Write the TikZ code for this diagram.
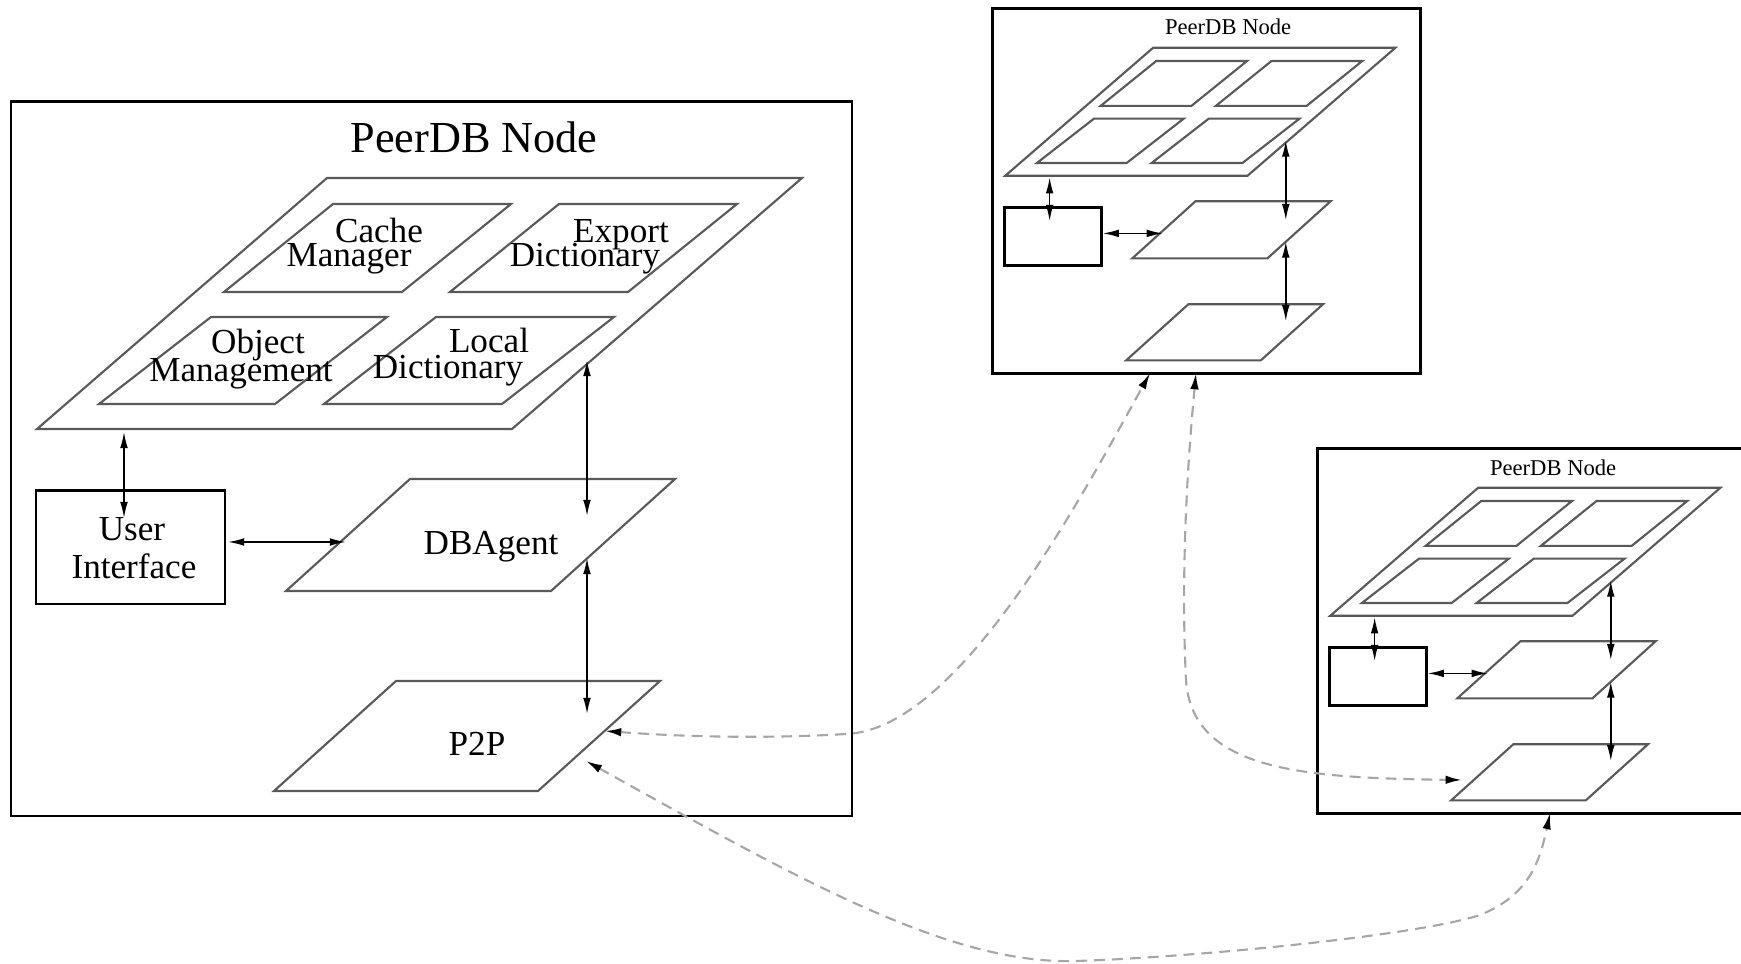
\documentclass[tikz,border=0pt]{standalone}
\usepackage{fontspec}
\setmainfont{Liberation Serif}
\usetikzlibrary{arrows.meta}

\tikzset{
  frame/.style={draw=black, line width=0.85pt},
  layer/.style={draw=black!65, line width=0.6pt},
  link/.style={{Latex[length=4.6pt,width=2.2pt]}-{Latex[length=4.6pt,width=2.2pt]}, line width=0.45pt},
  netlink/.style={{Latex[length=4.6pt,width=2.4pt,color=black]}-{Latex[length=4.6pt,width=2.4pt,color=black]},
    draw=black!35, line width=0.6pt, dash pattern=on 3.1pt off 2pt},
  lbl/.style={anchor=base, inner sep=0pt, font=\fontsize{10}{12}\selectfont},
  % one PeerDB node, drawn from the top left corner of its frame
  peernode/.pic={
    \draw[frame] (0,0) rectangle (841,714);
    \node[anchor=base, inner sep=0pt, font=\fontsize{12.6}{14}\selectfont] (-title) at (463,51) {PeerDB Node};
    % top layer with its four modules
    \draw[layer] (26,327) -- ++(475,0) -- ++(290,-251) -- ++(-475,0) -- cycle;
    \draw[layer] (213,190) -- ++(178,0) -- ++(109,-88) -- ++(-178,0) -- cycle;
    \draw[layer] (439,190) -- ++(178,0) -- ++(109,-88) -- ++(-178,0) -- cycle;
    \draw[layer] (88,302) -- ++(176,0) -- ++(112,-87) -- ++(-176,0) -- cycle;
    \draw[layer] (313,302) -- ++(178,0) -- ++(112,-87) -- ++(-178,0) -- cycle;
    % user interface box
    \draw[frame] (25,389) rectangle (214,502);
    % agent and p2p layers
    \draw[layer] (275,489) -- ++(265,0) -- ++(124,-112) -- ++(-265,0) -- cycle;
    \draw[layer] (263,689) -- ++(264,0) -- ++(122,-110) -- ++(-264,0) -- cycle;
    % connector ends
    \coordinate (-lay1) at (113,330);
    \coordinate (-ui1) at (113,416);
    \coordinate (-ui2) at (217,440);
    \coordinate (-dba1) at (335,440);
    \coordinate (-lay2) at (576,258);
    \coordinate (-dba2) at (576,414);
    \coordinate (-dba3) at (576,456);
    \coordinate (-p2p1) at (576,612);
    \coordinate (-p2pa) at (594,629);
    \coordinate (-p2pb) at (575,659);
    \coordinate (-p2pl) at (284,649);
    \coordinate (-bota) at (310,714);
    \coordinate (-botb) at (400,714);
    \coordinate (-botc) at (457,714);
    \draw[link] (-lay1) -- (-ui1);
    \draw[link] (-ui2) -- (-dba1);
    \draw[link] (-lay2) -- (-dba2);
    \draw[link] (-dba3) -- (-p2p1);
  }
}

\begin{document}
\begin{tikzpicture}[x=0.1mm, y=-0.1mm]
\useasboundingbox (0,0) rectangle (1741,964);

% ---- the three nodes ----
\pic (big) at (11,102) {peernode};
\pic[scale=0.51, transform shape] (up) at (992,9) {peernode};
\pic[scale=0.51, transform shape] (low) at (1317,449) {peernode};

% ---- labels of the big node ----
\node[lbl] (cachetxt) at (379,243) {Cache};
\node[lbl] (mgrtxt) at (349,267) {Manager};
\node[lbl] (exptxt) at (621,243) {Export};
\node[lbl] (expdict) at (585,267) {Dictionary};
\node[lbl] (objtxt) at (258,354) {Object};
\node[lbl] (objmgmt) at (241,382) {Management};
\node[lbl] (loctxt) at (489,353) {Local};
\node[lbl] (locdict) at (448,379) {Dictionary};
\node[lbl] (usertxt) at (132,541) {User};
\node[lbl] (uitxt) at (134,579) {Interface};
\node[lbl] (dbatxt) at (491,555) {DBAgent};
\node[lbl] (p2ptxt) at (477,756) {P2P};

% ---- p2p links between the nodes ----
\draw[netlink] (big-p2pa) .. controls (700,738) and (780,738) .. (846,734)
  .. controls (960,730) and (1085,490) .. (up-bota);
\draw[netlink] (up-botb) .. controls (1184,500) and (1182,600) .. (1186,680)
  .. controls (1192,770) and (1300,778) .. (low-p2pl);
\draw[netlink] (big-p2pb) .. controls (800,880) and (950,965) .. (1076,961)
  .. controls (1200,957) and (1420,935) .. (1480,915)
  .. controls (1530,895) and (1540,860) .. (low-botc);

\end{tikzpicture}
\end{document}
